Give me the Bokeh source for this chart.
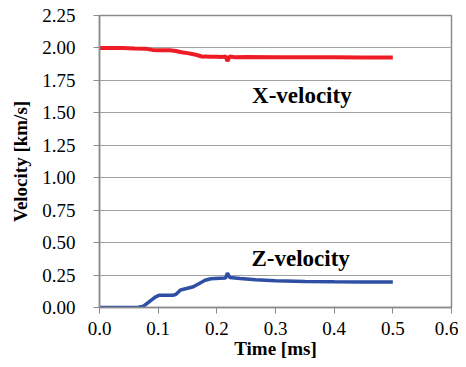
from bokeh.plotting import figure
from bokeh.models import Label, FixedTicker, PrintfTickFormatter, Range1d
from bokeh.embed import file_html
from bokeh.resources import INLINE

# X-velocity (red)
x_time = [0.0, 0.04, 0.05, 0.06, 0.08, 0.09, 0.10, 0.12, 0.13, 0.14, 0.15, 0.16,
          0.17, 0.175, 0.18, 0.19, 0.20, 0.21, 0.215, 0.218, 0.222, 0.23, 0.25,
          0.30, 0.35, 0.40, 0.45, 0.50]
x_vel = [2.000, 2.000, 1.998, 1.995, 1.993, 1.985, 1.982, 1.982, 1.977, 1.967,
         1.960, 1.952, 1.940, 1.933, 1.935, 1.932, 1.933, 1.931, 1.935, 1.898,
         1.935, 1.929, 1.930, 1.929, 1.928, 1.928, 1.927, 1.927]

# Z-velocity (blue)
z_time = [0.0, 0.065, 0.075, 0.085, 0.095, 0.102, 0.125, 0.13, 0.138, 0.15,
          0.16, 0.17, 0.18, 0.19, 0.205, 0.215, 0.218, 0.222, 0.24, 0.266,
          0.30, 0.35, 0.40, 0.45, 0.50]
z_vel = [0.0, 0.0, 0.01, 0.045, 0.08, 0.095, 0.095, 0.10, 0.135, 0.148,
         0.16, 0.185, 0.21, 0.222, 0.226, 0.228, 0.266, 0.232, 0.224, 0.214,
         0.206, 0.200, 0.198, 0.197, 0.196]

x_ticks = [0.0, 0.1, 0.2, 0.3, 0.4, 0.5, 0.6]
y_ticks = [0.0, 0.25, 0.5, 0.75, 1.0, 1.25, 1.5, 1.75, 2.0, 2.25]

series_labels = ["X-velocity", "Z-velocity"]
label_pos_t = [0.26, 0.259]
label_pos_v = [1.635, 0.375]

FONT = "Liberation Serif"

p = figure(frame_width=352, frame_height=292, output_backend="svg",
           toolbar_location=None,
           x_range=Range1d(0, 0.6), y_range=Range1d(0, 2.25))
p.min_border_left = 99
p.min_border_right = 7
p.min_border_top = 15
p.min_border_bottom = 40

p.outline_line_color = "#8c8c8c"
p.outline_line_width = 1.5
p.background_fill_color = "white"
p.border_fill_color = "white"

p.xgrid.grid_line_color = None
p.ygrid.grid_line_color = "#a0a0a0"
p.ygrid.grid_line_width = 1.2

for ax in (p.xaxis[0], p.yaxis[0]):
    ax.axis_line_color = "#8c8c8c"
    ax.axis_line_width = 1.5
    ax.major_tick_line_color = "#8c8c8c"
    ax.major_tick_out = 6
    ax.major_tick_in = 0
    ax.minor_tick_line_color = None
    ax.major_label_text_font = FONT
    ax.major_label_text_font_size = "19px"
    ax.major_label_text_color = "black"
    ax.axis_label_text_font = FONT
    ax.axis_label_text_font_style = "bold"
    ax.axis_label_text_font_size = "19px"
    ax.axis_label_text_color = "black"

p.xaxis.ticker = FixedTicker(ticks=x_ticks)
p.yaxis.ticker = FixedTicker(ticks=y_ticks)
p.xaxis.formatter = PrintfTickFormatter(format="%.1f")
p.yaxis.formatter = PrintfTickFormatter(format="%.2f")
p.xaxis.major_label_standoff = 8
p.yaxis.major_label_standoff = 18
p.xaxis.axis_label = "Time [ms]"
p.yaxis.axis_label = "Velocity [km/s]"
p.xaxis.axis_label_standoff = 0
p.yaxis.axis_label_standoff = 8

p.line(x_time, x_vel, line_color="#ee1c25", line_width=4)
p.line(z_time, z_vel, line_color="#2e4fa3", line_width=3.5)

for txt, tx, vy in zip(series_labels, label_pos_t, label_pos_v):
    p.add_layout(Label(x=tx, y=vy, text=txt, text_font=FONT,
                       text_font_style="bold", text_font_size="23px",
                       text_color="black", text_baseline="alphabetic"))

open("out.html", "w").write(file_html(p, INLINE))
